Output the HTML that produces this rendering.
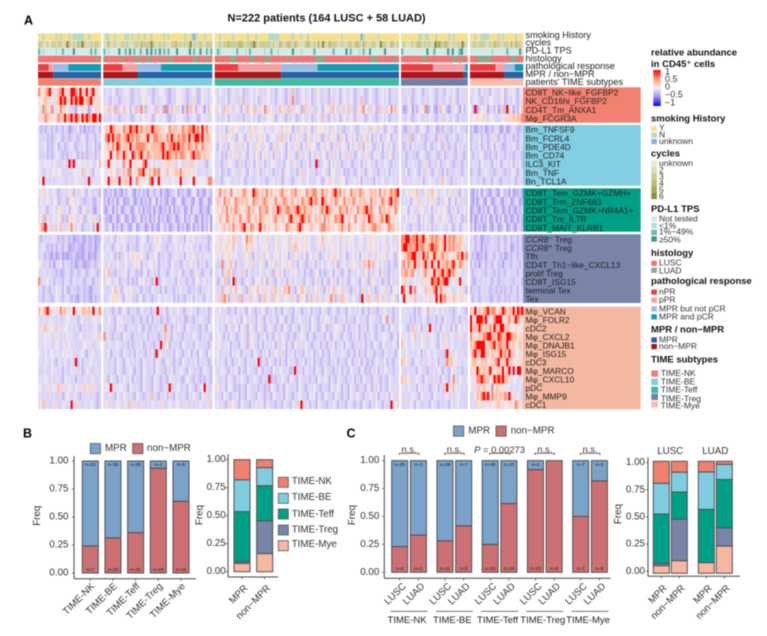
<!DOCTYPE html>
<html lang="en">
<head>
<meta charset="utf-8">
<title>TIME subtypes heatmap and stacked bars</title>
<style>
html,body{margin:0;padding:0;background:#fff;width:767px;height:636px;overflow:hidden}
svg{display:block;filter:blur(.4px)}
text{font-family:"Liberation Sans","DejaVu Sans",sans-serif;fill:#222;dominant-baseline:central}
.lt{font-size:9.5px;font-weight:bold;fill:#111}
.li{font-size:8.5px;fill:#333}
.an{font-size:9.2px;fill:#222}
.pl{font-size:12.5px;font-weight:bold;fill:#000}
.ax{font-size:9.8px;fill:#333}
</style>
</head>
<body>
<svg id="fig" xmlns="http://www.w3.org/2000/svg" width="767" height="636" viewBox="0 0 767 636">
<rect x="0" y="0" width="767" height="636" fill="#fff"/>
<text class="pl" x="24" y="20.5">A</text>
<text class="pl" x="23" y="433.5">B</text>
<text class="pl" x="346.5" y="433.5">C</text>
<text x="227.5" y="18.5" style="font-size:11px;font-weight:bold;fill:#111">N=222 patients (164 LUSC + 58 LUAD)</text>

<g id="heat"></g>
<g id="tracks"></g>
<g id="labels"></g>

<g>
<text class="an" x="525.5" y="35">smoking History</text>
<text class="an" x="525.5" y="42.5">cycles</text>
<text class="an" x="525.5" y="50.7">PD-L1 TPS</text>
<text class="an" x="525.5" y="58.3">histology</text>
<text class="an" x="525.5" y="66">pathological response</text>
<text class="an" x="525.5" y="74">MPR / non−MPR</text>
<text class="an" x="525.5" y="82">patients' TIME subtypes</text>
</g>

<g>
<text class="lt" x="651" y="53">relative abundance</text>
<text class="lt" x="651" y="64.5">in CD45⁺ cells</text>
<defs><linearGradient id="cb" x1="0" y1="0" x2="0" y2="1"><stop offset="0" stop-color="#ff0000"/><stop offset=".25" stop-color="#ff9a7a"/><stop offset=".5" stop-color="#f2f0f4"/><stop offset=".75" stop-color="#a08cf5"/><stop offset="1" stop-color="#0000ff"/></linearGradient></defs>
<rect x="653.3" y="70" width="7.4" height="36" fill="url(#cb)"/>
<text class="li" x="665" y="71.5" style="font-size:9px">1</text>
<text class="li" x="665" y="79" style="font-size:9px">0.5</text>
<text class="li" x="665" y="86.7" style="font-size:9px">0</text>
<text class="li" x="665" y="94.7" style="font-size:9px">−0.5</text>
<text class="li" x="665" y="102.7" style="font-size:9px">−1</text>

<text class="lt" x="651" y="119">smoking History</text>
<rect x="651.3" y="126" width="5.6" height="5.2" fill="#f7e08a"/>
<rect x="651.3" y="132.5" width="5.6" height="5.2" fill="#b5dac5"/>
<rect x="651.3" y="139" width="5.6" height="5.2" fill="#8bb0d8"/>
<text class="li" x="659" y="127.7">Y</text>
<text class="li" x="659" y="134.3">N</text>
<text class="li" x="659" y="141">unknown</text>

<text class="lt" x="651" y="154">cycles</text>
<rect x="651.3" y="160.7" width="5.6" height="6.4" fill="#e8e8d4"/>
<rect x="651.3" y="167.1" width="5.6" height="6.4" fill="#dcdcb6"/>
<rect x="651.3" y="173.5" width="5.6" height="6.4" fill="#cccc96"/>
<rect x="651.3" y="179.9" width="5.6" height="6.4" fill="#bcbc74"/>
<rect x="651.3" y="186.3" width="5.6" height="6.4" fill="#a8a858"/>
<rect x="651.3" y="192.7" width="5.6" height="6.4" fill="#8f8f3c"/>
<text class="li" x="659" y="163">unknown</text>
<text class="li" x="659" y="170">2</text>
<text class="li" x="659" y="176.5">3</text>
<text class="li" x="659" y="183">4</text>
<text class="li" x="659" y="189.5">5</text>
<text class="li" x="659" y="196">6</text>

<text class="lt" x="651" y="209.3">PD-L1 TPS</text>
<rect x="651.3" y="216.5" width="5.6" height="5.4" fill="#d2eae8"/>
<rect x="651.3" y="223" width="5.6" height="5.4" fill="#b4ddd8"/>
<rect x="651.3" y="229.7" width="5.6" height="5.4" fill="#6fb8b0"/>
<rect x="651.3" y="236.3" width="5.6" height="5.4" fill="#3f9a9a"/>
<text class="li" x="659" y="218.7">Not tested</text>
<text class="li" x="659" y="225.3">&lt;1%</text>
<text class="li" x="659" y="231.7">1%−49%</text>
<text class="li" x="659" y="239.3">≥50%</text>

<text class="lt" x="651" y="253.7">histology</text>
<rect x="651.3" y="260.7" width="5.6" height="5.2" fill="#ee7676"/>
<rect x="651.3" y="267.7" width="5.6" height="5.2" fill="#8da98a"/>
<text class="li" x="659" y="262.3">LUSC</text>
<text class="li" x="659" y="270.3">LUAD</text>

<text class="lt" x="651" y="281.7">pathological response</text>
<rect x="651.3" y="289.5" width="5.6" height="5.2" fill="#ea4045"/>
<rect x="651.3" y="297.5" width="5.6" height="5.2" fill="#f5a0a5"/>
<rect x="651.3" y="306.3" width="5.6" height="5.2" fill="#98bde6"/>
<rect x="651.3" y="314.3" width="5.6" height="5.2" fill="#169bb4"/>
<text class="li" x="659" y="291.3">nPR</text>
<text class="li" x="659" y="299.3">pPR</text>
<text class="li" x="659" y="308.7">MPR but not pCR</text>
<text class="li" x="659" y="316.7">MPR and pCR</text>

<text class="lt" x="651" y="330">MPR / non−MPR</text>
<rect x="651.3" y="337.3" width="5.6" height="5.2" fill="#2565a5"/>
<rect x="651.3" y="344" width="5.6" height="5.2" fill="#ae1418"/>
<text class="li" x="659" y="339.3">MPR</text>
<text class="li" x="659" y="346">non−MPR</text>

<text class="lt" x="651" y="360">TIME subtypes</text>
<rect x="651.3" y="370.3" width="6.7" height="6.4" fill="#f08070"/>
<rect x="651.3" y="378.7" width="6.7" height="6.4" fill="#80cde2"/>
<rect x="651.3" y="386.7" width="6.7" height="6.4" fill="#42b8a0"/>
<rect x="651.3" y="393.7" width="6.7" height="6.4" fill="#7080aa"/>
<rect x="651.3" y="401.3" width="6.7" height="6.4" fill="#fdbba8"/>
<text class="li" x="660.7" y="373">TIME-NK</text>
<text class="li" x="660.7" y="381.3">TIME-BE</text>
<text class="li" x="660.7" y="389.7">TIME-Teff</text>
<text class="li" x="660.7" y="398.3">TIME-Treg</text>
<text class="li" x="660.7" y="405.7">TIME-Mye</text>
</g>

<g>
<rect x="90.3" y="443.5" width="10.2" height="10.2" fill="#7ba2c9" stroke="#555" stroke-width=".8"/>
<text class="ax" x="105" y="448.7">MPR</text>
<rect x="132.7" y="443.5" width="10.2" height="10.2" fill="#cd7074" stroke="#555" stroke-width=".8"/>
<text class="ax" x="147" y="448.7">non−MPR</text>
</g>
<g>
<rect x="453.5" y="426" width="10.2" height="10.2" fill="#7ba2c9" stroke="#555" stroke-width=".8"/>
<text class="ax" x="468.3" y="431">MPR</text>
<rect x="496" y="426" width="10.2" height="10.2" fill="#cd7074" stroke="#555" stroke-width=".8"/>
<text class="ax" x="510.7" y="431">non−MPR</text>
</g>
<g>
<rect x="278.3" y="477.3" width="10" height="10" fill="#f08070" stroke="#555" stroke-width=".8"/>
<rect x="278.3" y="493.3" width="10" height="10" fill="#80cde2" stroke="#555" stroke-width=".8"/>
<rect x="278.3" y="509" width="10" height="10" fill="#00a086" stroke="#555" stroke-width=".8"/>
<rect x="278.3" y="525" width="10" height="10" fill="#7884a8" stroke="#555" stroke-width=".8"/>
<rect x="278.3" y="540.7" width="10" height="10" fill="#f5b8a2" stroke="#555" stroke-width=".8"/>
<text class="ax" x="291.7" y="481.7">TIME-NK</text>
<text class="ax" x="291.7" y="497.3">TIME-BE</text>
<text class="ax" x="291.7" y="514.3">TIME-Teff</text>
<text class="ax" x="291.7" y="530">TIME-Treg</text>
<text class="ax" x="291.7" y="544.7">TIME-Mye</text>
</g>
<g id="charts"></g>
</svg>

<script>
/* ---------- data: heatmap rows (one digit per patient, clusters split by spaces) ---------- */
const heatLevels = [-0.42,-0.32,-0.22,-0.14,-0.04,0.09,0.2,0.33,0.54,1];
const rowNames = ["CD8T_NK−like_FGFBP2","NK_CD16hi_FGFBP2","CD4T_Tm_ANXA1","Mφ_FCGR3A",
"Bm_TNFSF9","Bm_FCRL4","Bm_PDE4D","Bm_CD74","ILC3_KIT","Bm_TNF","Bn_TCL1A",
"CD8T_Tem_GZMK+GZMH+","CD8T_Trm_ZNF683","CD8T_Tem_GZMK+NR4A1+","CD8T_Tm_IL7R","CD8T_MAIT_KLRB1",
"CCR8⁻| Treg","CCR8⁺| Treg","Tfh","CD4T_Th1−like_CXCL13","prolif Treg","CD8T_ISG15","terminal Tex","Tex",
"Mφ_VCAN","Mφ_FOLR2","cDC2","Mφ_CXCL2","Mφ_DNAJB1","Mφ_ISG15","cDC3","Mφ_MARCO","Mφ_CXCL10","pDC","Mφ_MMP9","cDC1"];
const heatRows = [
"86578956378964799859769489564 233243122344212323443221234432113244532123421243324 32432312532341223424623254231243213272123423412642232142341243253123421243212342412323 2232312342132432123214324213232 3243152321432234125342135",
"54676353679895697989957896566 232142312335212322453421323342113244532123621243323 42322413332261323424123354231343213282123423412342232162341243243123721243212342412323 3224212342232432123224224213232 2343212324432234123242136",
"43874683358664322044653024663 64736172473415272831634272518037362403827416530374 63427365264315274472364826432375637263451726362243145627423624732165284623417263248374 2013502164380241027431023520413 4190243502315027192403147",
"36687564686796897986979879969 232242312335212342453421343342113244432123421243323 32322413332231323424123254531243213242123423412342732142341243243163421243212342412323 3224212342232432123224224213222 3456556324432234366676778",
"21212313122132012241202121231 47698766587798896867779877664586775687788978696853 32524135645332432563454253324532465413225325413645534236423213243212435326532431243213 2112232124521324112132213243221 1201213012123201301232112",
"32231212342122123212431232132 38979688678978687667966887766879768788695899796775 42536245321442156342653412543267324152463214624352136243512641352413256241324132451323 2232712342212332162321324213242 1232413212362132132312123",
"32341213412312342123241324121 46758698577696788887667777897688989787787687587663 31462314532632415326432542163245314325631426354213524613262453142532614352132415324123 2123142323214213242162132142322 1322412312413321123242132",
"32231212432121324213161223122 45693587697649868966876777797987786887568978767664 32413152463234215324614352416324215342163253142632451326241532623124325621435213246132 2312322124321233212412332133212 2132342121321423132212321",
"43343425322332919344353352247 36954434383694355489334243355666324423662643332134 23213254321623132415324132453223144235231324132912345142523132421324132452313224321323 2213242312362132241324321232132 2323143232142412332513241",
"43224254345222324434725321434 43564572373884568894676878643745676866564642233233 32412312432234214323513242313241254223136224323132432154323412132124231343221332413232 3241234213225312422141322332133 1232123432212332122342133",
"34923232333322323433322923333 43936629467393386544589439343534434923344934444388 23213443233242133223423213342331243213343234222342135634236441233424133232142342234232 3223233324123433223743213233433 2332231232143212322331232",
"35634234212332561323421432321 11213021021341021312032123021012240213102430210321 46857368456578646987576857564786647785654867884686756896857458676876467675847668789 3246535732246375423542536321432 1021403210231043120501120",
"24335324512321645342212231132 12021302401132013021203403121031024301231042013201 57358674687676754877578756586678757747587689687598657587468675874767658674687589687 2324135326342536313254134152322 1020231042012310223013201",
"33421334256324134521352231023 10230214012310241302112031021304021230140323012103 56476847687556786745867865769867886789868767564786987656876857648678978654867575686 3451342264523415243542132513242 0131021302401230130210213",
"34715234356121564325312436321 21102301420130124021302140213012301240213201302130 45764875756865786475876564786576489676898586576748675687896574684667598755786985654 3242535214243213462453213243122 0201302140130214012013021",
"47895326257323684243123241392 31240213023102401320130210421301230213014021302140 34567476856789468757967565476546876568975467654788675646786586464677567886754687746 2432133213242513235322421351243 1302120141023012401310321",
"21323233212122120112102112011 33243143453222312443132465423212453231436423323212 45634564763245867452435633246354526465435642235473545634264354523542356435345234262 8899788978966787876795878767643 2312201212322132123122131",
"23421213122132011211012112012 23321343242132212432312354322132342423534223132213 35645654743234756342345523246354526376435642225362435434235243423532356435235324352 8997878978857898866795878677533 2312202122322133123012131",
"23212102012010112101012011022 33243161234256536432132441223212353231436422623332 43525465342236432152632452354243513246325134253123425635234123425143523525345234216 4678899676978569767867546687968 2120112023213212012132122",
"45223130324132212012101122123 32523243234223534132345241323214323125234251323132 32282537415223536232452143523245356231432132513242343251234236453237686734252313212 7838679675796696695778689668763 1312023122133120222132213",
"32332322121123212312321233212 24722132334133212134125231332124323512321253212331 32413675123623142232432532165241325342241321254131234133213412324326413234152213232 7786785324786659678968978554233 2132322132213122133222132",
"82334231322133214223212321223 25432341233131214342321391243323214232132145234232 31247214913212432154324163214325163242321432152314215231423213432143216532412315232 5663234356364598896899634369435 2113223232132122232213231",
"23122132433141132212212102223 32234763134346232132214323141232132423212232132342 32613562474532163547536352675347683214675323246321524735426321324163252312346231543 9842928344576368948635432343621 1222132321221212122132132",
"22132212432133212102212102122 22346534214352213412321324324324131321324142321432 36278613632716362542167352734624532631654137362523468316276532432194276327523623461 2945647333534635969784647653655 2132123221132123121322132",
"75689635358675349354776759368 2332132134213231242231329324125234321634231232312 33423212314232143213243122413214322143213241322143212431232143232412313221324323132 3332321313541632432523221244221 7693767897886679857796989",
"32332533232234423313423235433 32432143523231232132141323123123423231132132432213 34232532342314523231432142232145213213243223143213245323123241322143232143322143832132 3323131322431223132142321321322 9469997964389994668379856",
"33673546236344232321323223421 23322143321323224213213223238231324321432232132143 34232153234143215321432124321321432143214323143212431223543214123241323143213212314322 4321373241323932231432314134242 9677976768697799676546454",
"63343423632324332224323333562 82321322143321323224132321237321432213232432132321 34521414321243216432132413214324321321234321421232314213432143213241321324213244321241 6342347324632343214263243236322 8656768899777987799877566",
"33343322432336423222343332234 32332343223131232412322132936413223143223143232213 35423341322143216432141323241323413214623243213241321324132414321323241321432143232431 7342343324532343214363243233222 7689999667896887796675576",
"43242343332434342323421334223 32412332143223142321324193423223143213241321432143 34223231424313232143213241324326213241322143241324132143232432132141321423132214323213 3243232341324324322219632432322 6897799675766797869675436",
"33243242133242232914132342322 33223143213423232143223143212432132143223241323212 24232142132432142324913214321413214232132413241321232132413221431324132131243224132133 7643213432323523413228675433233 5775576756678956796754566",
"22332243323132243323124322332 33232143212342132143223143221324132432143223124321 32343213243132143221431322143243232129223143221432143221324132143221431213241324323132 3223232143221323243132143323132 3669767679656769479394994",
"33343232332143323132233234223 32143213243241322143221432132143323212432132121321 43223143213243213243213229121324321432143223132143243132143221324132143221432132143223 7664323432143223231432148324323 4358898774698989775344335",
"45233634376336432433625636322 34392334432143232143221432123293234223143212349322 65233144212132143223132121432132143223143212324321322143243132143212321431324132143232 3324323143232123413279437433232 4632757643847656534233242",
"33232323223124323321323323212 32332143243232143212327321324132143232132432143323 23214321324132143221432132143223143213243221434132143221432132143243213243241332514326 3232343214323214323234232343222 2347689895867676879563432",
"35723236322432393263233243212 34632345234723632332324323632343244236323232432362 34232136432143221324253143221321432143269324132143221324313221432132143213243213229246 3232431432232143213232142342322 2326535546456756445648756"
];
const clusterSizes = [29,51,86,31,25];
const smokingTrack = [
"YYNYYYYYNYNYYYNYNNNNNYYNYYYYY",
"YNNYYNYYYYNNYNYYNYYNYYNYYYYYNYNYYYYYYYNYYNUNYYYNYYY",
"YYNYYYYYNYYYYYYNYYYNYYYYYNNNNNYYYYYYNYYYNYYNYYYYYYYYYYYYYYYNYYYYYYYYUNYYYYYYNYYYYYYYYY",
"YYYYYYYYNNYNNYYYNYYYYYNYNYYYYYY",
"YYNYYNNNNYYYYNYNYYYYYNYYY"];
const cycleTrack = [
"33223133233226323243632232332",
"22422322232322233243333632232322233423232362323322333",
"22323343333443233463233333232243234324322234323242632433322322332343243223322633224323",
"23222323432323226453343223232632",
"2332333223243322332424332"];
const pdl1Track = [
"20100000100200003000000020200",
"201000030020302002003030203020200030000030200300202",
"02100000002000102000000100200100000030001000002000000002000003020001020030000003000000",
"20000000000300200000303002300",
"0000000000100000020000030"];
const histTrack = [
"LLLLLLLLLLLLLLLLLLLLLLLLLLLAL",
"ALLLLLLLALLLLLLAALLLAALLLLALLLAALLLLLLLLLLAALLLLALL",
"LLLLLLLAAALLLLLLAALLLLLAALLLLLLLLALLLLLLLLLLLLAAAALLLLLLLLLLLLLLLLLLLLLAAALLLLLLLLAL",
"LLLLLLLLLLAALLLLLLLLLLLLAALLALL",
"LLLAAAAAAALLLLLLLLLAAALLL"];
const pathCounts = [[5,2,7,15],[9,7,11,24],[11,20,17,38],[15,14,1,1],[12,4,5,4]];

/* ---------- data: bar panels ---------- */
const subtypes = ["TIME-NK","TIME-BE","TIME-Teff","TIME-Treg","TIME-Mye"];
const bMpr = [22,35,55,2,9];
const bNonMpr = [7,16,31,29,16];
const responseLabels = ["MPR","non−MPR"];
const cMpr = [20,2,28,7,45,10,2,0,7,2];
const cNonMpr = [6,1,11,5,15,16,23,6,7,9];
const histologies = ["LUSC","LUAD"];
const cComparisons = ["n.s.","n.s.","P = 0.00273","n.s.","n.s."];
const freqTicks = [0,0.25,0.5,0.75,1];

/* ---------- style tables ---------- */
const smokeColors = {Y:"#f7e08a",N:"#b5dac5",U:"#8bb0d8"};
const cycleColors = {1:"#e8e8d4",2:"#dcdcb6",3:"#cccc96",4:"#bcbc74",5:"#a8a858",6:"#8f8f3c"};
const pdColors = {0:"#d2eae8",1:"#b4ddd8",2:"#6fb8b0",3:"#3f9a9a"};
const histColors = {L:"#ee7676",A:"#8da98a"};
const pathColors = ["#ea4045","#f5a0a5","#98bde6","#169bb4"];
const mprColors = ["#ae1418","#2565a5"];
const timeTrackColors = ["#ee8271","#80cde2","#42b8a0","#7080aa","#fdbba8"];
const timeBarColors = ["#f08070","#80cde2","#00a086","#7884a8","#f5b8a2"];
const labelBgColors = ["#f28172","#82cee2","#00a086","#7884a8","#f4b8a0"];
const blockRowCounts = [4,7,5,8,12];
const clusterX = [[38,101],[103.3,212.3],[214.7,399],[401,467.7],[470,523.3]];
const blockY = [[87.7,122.3],[125,185.3],[188.3,231.7],[234.7,302.7],[306.7,409]];
const labelY = [[87.3,122.7],[125,185.7],[188.3,231.7],[234.3,303],[306.7,409.3]];
const trackY = [[33.3,40.7],[41,48],[48.3,55],[55.6,62.5],[64,71],[71.7,78.3],[78.7,85.7]];

const NS = "http://www.w3.org/2000/svg";
function mk(parent, tag, attrs, txt){
  const el = document.createElementNS(NS, tag);
  for (const k in attrs) el.setAttribute(k, attrs[k]);
  if (txt !== undefined) el.textContent = txt;
  parent.appendChild(el);
  return el;
}
const stops = [[-1,[0,0,255]],[-0.5,[160,140,245]],[-0.22,[218,210,245]],[0,[240,238,242]],[0.25,[255,208,192]],[0.5,[255,150,118]],[1,[255,0,0]]];
function heatColor(v){
  for (let i = 1; i < stops.length; i++){
    if (v <= stops[i][0]){
      const a = stops[i-1], b = stops[i], t = (v - a[0]) / (b[0] - a[0]);
      return "rgb(" + a[1].map((c,j) => Math.round(c + (b[1][j] - c) * t)).join(",") + ")";
    }
  }
  return "rgb(255,0,0)";
}

/* ---------- heatmap ---------- */
const heatG = document.getElementById("heat");
let rowIdx = 0;
blockRowCounts.forEach((count, b) => {
  const top = blockY[b][0], rh = (blockY[b][1] - top) / count;
  for (let r = 0; r < count; r++, rowIdx++){
    const parts = heatRows[rowIdx].split(" ");
    parts.forEach((s, c) => {
      const x0 = clusterX[c][0], w = (clusterX[c][1] - x0) / s.length;
      for (let i = 0; i < s.length; i++){
        const cell = mk(heatG, "rect", {x:x0 + i * w, y:top + r * rh, width:w + 0.15, height:rh + 0.1, fill:heatColor(heatLevels[+s[i]])});
        
        
      }
    });
  }
});

/* ---------- row labels ---------- */
const labelG = document.getElementById("labels");
rowIdx = 0;
blockRowCounts.forEach((count, b) => {
  const bg = mk(labelG, "rect", {x:523.3, y:labelY[b][0], width:117.4, height:labelY[b][1] - labelY[b][0], fill:labelBgColors[b]});
  
  
  const rh = (blockY[b][1] - blockY[b][0]) / count;
  for (let r = 0; r < count; r++, rowIdx++){
    const parts = rowNames[rowIdx].split("|");
    const t = mk(labelG, "text", {x:525.5, y:blockY[b][0] + (r + 0.55) * rh, style:"font-size:8.4px;fill:#222"});
    
    
    if (parts.length > 1){
      mk(t, "tspan", {"font-style":"italic"}, parts[0]);
      mk(t, "tspan", {}, parts[1]);
    } else {
      t.textContent = parts[0];
    }
  }
});

/* ---------- annotation tracks ---------- */
const trackG = document.getElementById("tracks");
function drawCategorical(track, yr, palette){
  track.forEach((s, c) => {
    const x0 = clusterX[c][0], w = (clusterX[c][1] - x0) / s.length;
    for (let i = 0; i < s.length; i++){
      const cell = mk(trackG, "rect", {x:x0 + i * w, y:yr[0], width:w + 0.15, height:yr[1] - yr[0], fill:palette[s[i]]});
      
      
    }
  });
}
drawCategorical(smokingTrack, trackY[0], smokeColors);
drawCategorical(cycleTrack, trackY[1], cycleColors);
drawCategorical(pdl1Track, trackY[2], pdColors);
drawCategorical(histTrack, trackY[3], histColors);
function drawCounts(countsPerCluster, yr, palette){
  countsPerCluster.forEach((counts, c) => {
    const total = counts.reduce((a, b) => a + b, 0), x0 = clusterX[c][0], W = clusterX[c][1] - x0;
    let acc = 0;
    counts.forEach((n, k) => {
      const seg = mk(trackG, "rect", {x:x0 + acc / total * W, y:yr[0], width:n / total * W, height:yr[1] - yr[0], fill:palette[k]});
      
      
      acc += n;
    });
  });
}
drawCounts(pathCounts, trackY[4], pathColors);
drawCounts(bNonMpr.map((n, i) => [n, bMpr[i]]), trackY[5], mprColors);
clusterX.forEach((cx, c) => {
  const seg = mk(trackG, "rect", {x:cx[0], y:trackY[6][0], width:cx[1] - cx[0], height:trackY[6][1] - trackY[6][0], fill:timeTrackColors[c]});
  
  
});

/* ---------- bar chart helpers ---------- */
const chartG = document.getElementById("charts");
const AXC = "#444", BARST = "#505050";
function yAxis(cfg){
  const ln = mk(chartG, "line", {x1:cfg.x, x2:cfg.x, y1:cfg.top, y2:cfg.bottom, stroke:AXC, "stroke-width":1});
  
  
  freqTicks.forEach(v => {
    const y = cfg.tickY(v);
    const tk = mk(chartG, "line", {x1:cfg.x - 2.3, x2:cfg.x, y1:y, y2:y, stroke:AXC, "stroke-width":0.7});
    
    
    const t = mk(chartG, "text", {class:"ax", x:cfg.labelX, y:y, "text-anchor":"end"}, v.toFixed(2));
    
    
  });
  const ft = mk(chartG, "text", {class:"ax", x:cfg.titleX, y:cfg.titleY, "text-anchor":"middle", transform:"rotate(-90 " + cfg.titleX + " " + cfg.titleY + ")"}, "Freq");
  
  
}
function xAxis(cfg, centers, labels){
  const ln = mk(chartG, "line", {x1:cfg.x0, x2:cfg.x1, y1:cfg.y, y2:cfg.y, stroke:AXC, "stroke-width":1});
  
  
  centers.forEach((cx, i) => {
    const tk = mk(chartG, "line", {x1:cx, x2:cx, y1:cfg.y, y2:cfg.y + 2.3, stroke:AXC, "stroke-width":0.7});
    
    
    const tx = cx + cfg.dx, ty = cfg.labelY;
    const t = mk(chartG, "text", {class:"ax", x:tx, y:ty, "text-anchor":"end", transform:"rotate(-45 " + tx + " " + ty + ")"}, labels[i]);
    
    
  });
}
function stackBar(x, w, yFn, fracs, colors){
  let acc = 0;
  fracs.forEach((f, k) => {
    if (f <= 0) return;
    const yTop = yFn(acc + f), yBot = yFn(acc);
    const r = mk(chartG, "rect", {x:x, y:yTop, width:w, height:yBot - yTop, fill:colors[k], stroke:BARST, "stroke-width":1});
    
    
    acc += f;
  });
}
function nLabel(cx, y, n){
  const t = mk(chartG, "text", {x:cx, y:y, "text-anchor":"middle", style:"font-size:4.7px;fill:#111"}, "n=" + n);
  
  
}
const respColors = ["#cd7074","#7ba2c9"];
const sum = a => a.reduce((p, q) => p + q, 0);

/* ---------- panel B left ---------- */
const yB1 = v => 573 - v * 112;
const xB1 = i => 82.3 + i * 22.67;
subtypes.forEach((_, i) => {
  const tot = bMpr[i] + bNonMpr[i];
  stackBar(xB1(i), 16, yB1, [bNonMpr[i] / tot, bMpr[i] / tot], respColors);
  nLabel(xB1(i) + 8, 464.7, bMpr[i]);
  nLabel(xB1(i) + 8, 569.3, bNonMpr[i]);
});
yAxis({x:74, top:456, bottom:578.7, tickY:yB1, labelX:68.5, titleX:37.3, titleY:515.7});
xAxis({x0:74, x1:196, y:578.7, dx:3, labelY:585}, subtypes.map((_, i) => xB1(i) + 8), subtypes);

/* ---------- panel B right (stack bottom-up: Mye, Treg, Teff, BE, NK) ---------- */
const yB2 = v => 571.7 - v * 112;
const xB2 = i => 234 + i * 22.67;
const stackOrder = [4,3,2,1,0];
[bMpr, bNonMpr].forEach((arr, i) => {
  const tot = sum(arr);
  stackBar(xB2(i), 16, yB2, stackOrder.map(k => arr[k] / tot), stackOrder.map(k => timeBarColors[k]));
});
yAxis({x:228, top:454.3, bottom:577, tickY:yB2, labelX:225.7, titleX:200, titleY:515});
xAxis({x0:228, x1:278, y:577, dx:4.5, labelY:587}, responseLabels.map((_, i) => xB2(i) + 8), responseLabels);

/* ---------- panel C left ---------- */
const yC1 = v => 572.3 - v * 111.7;
const xC1 = i => 391.7 + Math.floor(i / 2) * 45.25 + (i % 2) * 18.7;
cMpr.forEach((m, i) => {
  const tot = m + cNonMpr[i];
  stackBar(xC1(i), 16, yC1, [cNonMpr[i] / tot, m / tot], respColors);
  if (m > 0) nLabel(xC1(i) + 8, 464.5, m);
  nLabel(xC1(i) + 8, 568.5, cNonMpr[i]);
});
yAxis({x:384.3, top:455, bottom:578.3, tickY:yC1, labelX:379.3, titleX:352.7, titleY:515});
xAxis({x0:384.3, x1:610.7, y:578.3, dx:5, labelY:585}, cMpr.map((_, i) => xC1(i) + 8), cMpr.map((_, i) => histologies[i % 2]));
subtypes.forEach((name, g) => {
  const cLeft = xC1(g * 2) + 8, cRight = xC1(g * 2 + 1) + 8, mid = (cLeft + cRight) / 2;
  const br = mk(chartG, "path", {d:"M" + (cLeft - 0.5) + " 455V453.3H" + (cRight + 0.5) + "V455", fill:"none", stroke:"#222", "stroke-width":0.7});
  
  
  const lab = cComparisons[g];
  const sig = mk(chartG, "text", {x:mid, y:448.8, "text-anchor":"middle", style:"font-size:9.4px;fill:#333"});
  
  
  if (lab[0] === "P"){
    mk(sig, "tspan", {"font-style":"italic"}, "P");
    mk(sig, "tspan", {}, lab.slice(1));
  } else {
    sig.textContent = lab;
  }
  const ul = mk(chartG, "line", {x1:mid - 18.5, x2:mid + 18.5, y1:611.3, y2:611.3, stroke:"#222", "stroke-width":0.7});
  
  
  const gl = mk(chartG, "text", {x:mid - 2, y:620.7, "text-anchor":"middle", style:"font-size:9.5px;fill:#222"}, name);
  
  
});

/* ---------- panel C right ---------- */
const yC2 = v => 573.3 - v * 112;
const tickC2 = v => 571.3 - v * 108.7;
const xC2 = i => 653.3 + Math.floor(i / 2) * 45 + (i % 2) * 18;
const pick = (arr, hist) => subtypes.map((_, s) => arr[s * 2 + hist]);
const c2Series = [pick(cMpr, 0), pick(cNonMpr, 0), pick(cMpr, 1), pick(cNonMpr, 1)];
c2Series.forEach((arr, i) => {
  const tot = sum(arr);
  stackBar(xC2(i), 16, yC2, stackOrder.map(k => arr[k] / tot), stackOrder.map(k => timeBarColors[k]));
});
yAxis({x:648, top:457.3, bottom:576.3, tickY:tickC2, labelX:645, titleX:618.7, titleY:514});
xAxis({x0:648, x1:740, y:576.3, dx:4.5, labelY:587}, c2Series.map((_, i) => xC2(i) + 8), c2Series.map((_, i) => responseLabels[i % 2]));
histologies.forEach((h, i) => {
  const st = mk(chartG, "text", {class:"ax", x:(xC2(i * 2) + xC2(i * 2 + 1) + 16) / 2, y:451.7, "text-anchor":"middle"}, h);
  
  
});
</script>
</body>
</html>
